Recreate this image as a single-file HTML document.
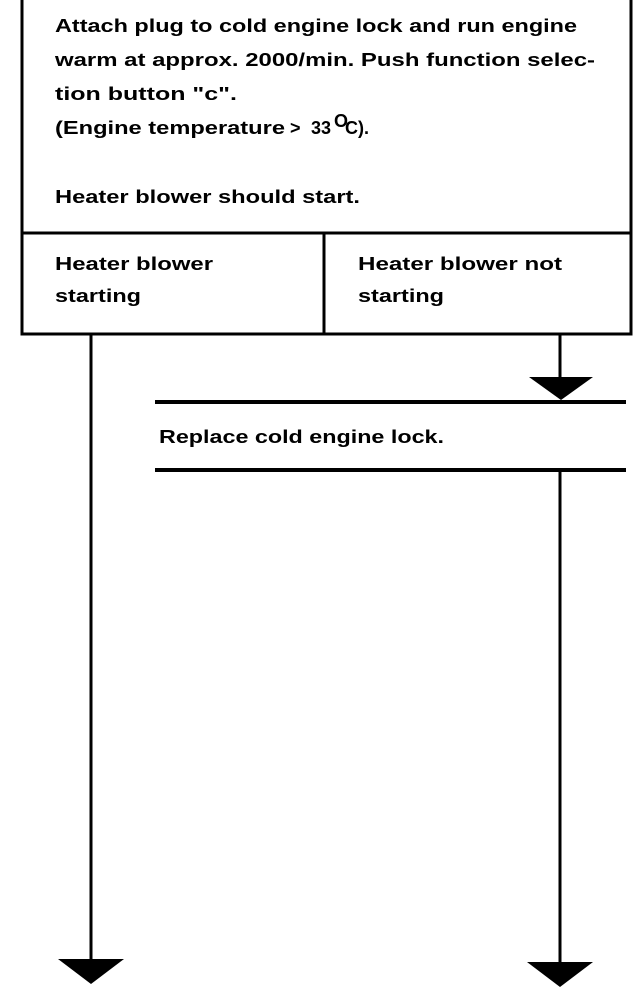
<!DOCTYPE html>
<html><head><meta charset="utf-8"><style>
html,body{margin:0;padding:0;background:#fff;}
svg{display:block;}
text{font-family:"Liberation Sans",sans-serif;font-weight:bold;font-size:18px;fill:#000;}
</style></head><body>
<svg width="640" height="1008" viewBox="0 0 640 1008" xmlns="http://www.w3.org/2000/svg">
<g fill="none" stroke="#000" stroke-width="3">
<rect x="22" y="-2" width="609" height="336"/>
<line x1="22" y1="233" x2="631" y2="233"/>
<line x1="324" y1="233" x2="324" y2="334"/>
<line x1="91" y1="334" x2="91" y2="965"/>
<line x1="560" y1="334" x2="560" y2="385"/>
<line x1="560" y1="470" x2="560" y2="965"/>
</g>
<line x1="155" y1="402" x2="626" y2="402" stroke="#000" stroke-width="4"/>
<line x1="155" y1="470" x2="626" y2="470" stroke="#000" stroke-width="4"/>
<polygon points="529,377 593,377 561,400" fill="#000"/>
<polygon points="58,959 124,959 91,984" fill="#000"/>
<polygon points="527,962 593,962 560,987" fill="#000"/>
<text x="55" y="32" textLength="522" lengthAdjust="spacingAndGlyphs">Attach plug to cold engine lock and run engine</text>
<text x="55" y="66" textLength="540" lengthAdjust="spacingAndGlyphs">warm at approx. 2000/min. Push function selec-</text>
<text x="55" y="100" textLength="182" lengthAdjust="spacingAndGlyphs">tion button "c".</text>
<text x="55" y="134" textLength="230" lengthAdjust="spacingAndGlyphs">(Engine temperature</text>
<text x="290" y="134" font-size="24">&gt;</text>
<text x="311" y="134">33</text>
<text x="334" y="127" font-size="13">O</text>
<text x="345" y="134">C).</text>
<text x="55" y="203" textLength="305" lengthAdjust="spacingAndGlyphs">Heater blower should start.</text>
<text x="55" y="270" textLength="158" lengthAdjust="spacingAndGlyphs">Heater blower</text>
<text x="55" y="302" textLength="86" lengthAdjust="spacingAndGlyphs">starting</text>
<text x="358" y="270" textLength="204" lengthAdjust="spacingAndGlyphs">Heater blower not</text>
<text x="358" y="302" textLength="86" lengthAdjust="spacingAndGlyphs">starting</text>
<text x="159" y="443" textLength="285" lengthAdjust="spacingAndGlyphs">Replace cold engine lock.</text>
</svg>
</body></html>
